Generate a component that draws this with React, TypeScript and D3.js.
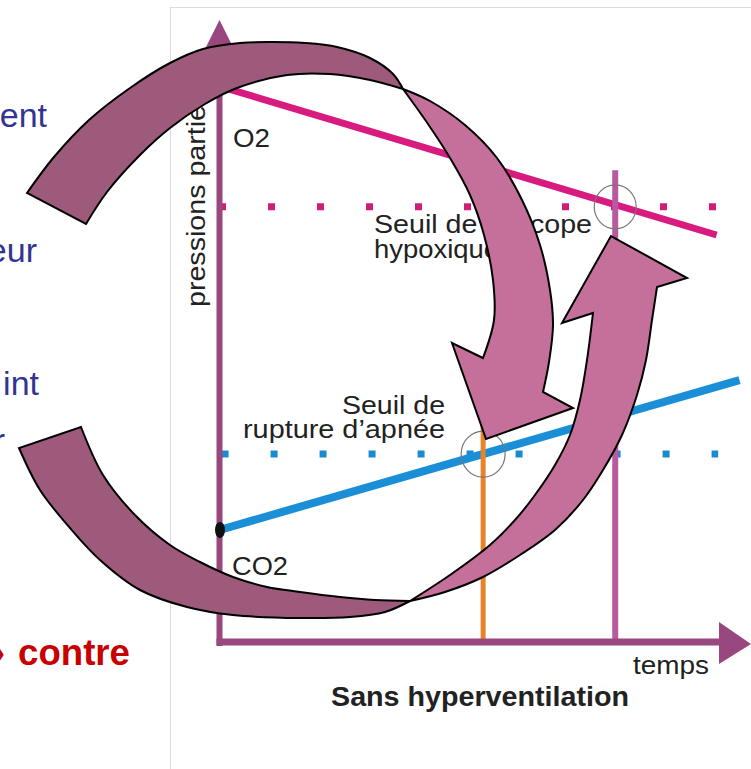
import React from "react";
import * as d3 from "d3";

// chart values (time and partial pressure, arbitrary units 0..100)
const o2Times = [1.2, 95.6];
const o2Values = [90.5, 66.5];
const co2Times = [0, 100];
const co2Values = [18.3, 42.8];
const syncopeThreshold = 71.1; // seuil de syncope hypoxique (O2)
const ruptureThreshold = 30.7; // seuil de rupture d'apnée (CO2)
const ruptureTime = 50.7;
const syncopeTime = 76.1;
const thresholdEnd = 95.9;

type Pt = [number, number];

// decorative circular arrows (pixel outlines)
const arrow1Outer: Pt[] = [[27, 193], [54, 157], [89, 120], [130, 88], [170, 63], [203, 49], [240, 43], [270, 42], [305, 43], [337, 47], [370, 58], [393, 74], [403, 89]];
const arrow1Inner: Pt[] = [[403, 89], [370, 80], [330, 74], [287, 75], [237, 88], [205, 104], [170, 128], [140, 155], [107, 192], [86, 224]];
const arrow1Right: Pt[] = [[403, 89], [430, 101], [465, 125], [497, 158], [522, 200], [540, 245], [550, 290], [553, 325], [549, 362], [543, 392]];
const arrow1Head: Pt[] = [[573, 408], [486, 439], [452, 343]];
const arrow1Left: Pt[] = [[483, 358], [494, 320], [493, 280], [484, 235], [470, 195], [450, 158], [428, 124], [403, 89]];

const arrow2Outer: Pt[] = [[19, 448], [40, 490], [70, 528], [100, 560], [140, 590], [187, 607], [233, 615], [300, 618], [350, 617], [385, 612], [410, 601]];
const arrow2Inner: Pt[] = [[410, 601], [375, 600], [340, 597], [300, 592], [267, 587], [233, 577], [200, 562], [170, 545], [135, 515], [103, 475], [81, 427]];
const arrow2Upper: Pt[] = [[410, 601], [450, 575], [490, 545], [515, 520], [535, 495], [555, 465], [570, 435], [580, 400], [587, 360], [593, 313]];
const arrow2Head: Pt[] = [[562, 323], [611, 236], [687, 278]];
const arrow2Lower: Pt[] = [[657, 287], [652, 320], [646, 360], [637, 395], [622, 435], [603, 470], [583, 500], [555, 530], [520, 555], [483, 577], [445, 592], [410, 601]];

const smooth = d3.line<Pt>().curve(d3.curveCatmullRom.alpha(0.5));

function bandPath(a: Pt[], b: Pt[], mids: Pt[] = []) {
  const s1 = smooth(a) ?? "";
  const straight = mids.map((p) => `L${p[0]},${p[1]}`).join("");
  const s2 = (smooth(b) ?? "").replace(/^M/, "L");
  return s1 + straight + s2 + "Z";
}

const FONT = "'Liberation Sans', Arial, Helvetica, sans-serif";

export default function App() {
  const W = 751;
  const H = 769;

  const x = d3.scaleLinear().domain([0, 100]).range([219.5, 739.5]);
  const y = d3.scaleLinear().domain([0, 100]).range([642, 30]);

  const line = d3.line<number>()
    .x((_, i) => x(o2Times[i]))
    .y((d) => y(d));
  const co2Line = d3.line<number>()
    .x((_, i) => x(co2Times[i]))
    .y((d) => y(d));

  const axisColor = "#99487f";
  const x0 = x(0);
  const yBase = y(0);
  const dark = "#9d5a7b";
  const light = "#c5709a";

  return (
    <svg width={W} height={H} style={{ position: "absolute", left: 0, top: 0, background: "#fff" }}>
      {/* panel frame */}
      <rect x={170.5} y={7.5} width={700} height={800} fill="#fff" stroke="#dcdcdc" strokeWidth={1} />

      {/* thresholds */}
      <line x1={x(0) - 0.5} x2={x(thresholdEnd)} y1={y(syncopeThreshold)} y2={y(syncopeThreshold)}
        stroke="#d01e78" strokeWidth={7} strokeDasharray="7 42" />
      <line x1={x(0.4)} x2={x(thresholdEnd)} y1={y(ruptureThreshold)} y2={y(ruptureThreshold)}
        stroke="#1b8bd0" strokeWidth={7} strokeDasharray="7 42" />

      {/* partial pressure lines */}
      <path d={line(o2Values) ?? ""} fill="none" stroke="#d81b7e" strokeWidth={7} />
      <path d={co2Line(co2Values) ?? ""} fill="none" stroke="#1a8fd8" strokeWidth={8} />

      {/* event markers */}
      <line x1={x(ruptureTime)} x2={x(ruptureTime)} y1={y(35.5)} y2={yBase} stroke="#e9832b" strokeWidth={5} />
      <line x1={x(syncopeTime)} x2={x(syncopeTime)} y1={y(77.1)} y2={yBase} stroke="#b85aa0" strokeWidth={6} />

      {/* axes */}
      <line x1={x0} x2={x0} y1={yBase + 4} y2={48} stroke={axisColor} strokeWidth={6} />
      <path d={`M${x0},20 L${x0 + 17},54 L${x0 - 17},54 Z`} fill={axisColor} />
      <line x1={x0 - 3} x2={722} y1={yBase} y2={yBase} stroke={axisColor} strokeWidth={7} />
      <path d={`M751,${yBase + 2} L719,${yBase - 20} L719,${yBase + 22} Z`} fill={axisColor} />

      {/* CO2 start point */}
      <ellipse cx={x(co2Times[0]) + 0.5} cy={y(co2Values[0])} rx={5} ry={8} fill="#111" />

      {/* intersection circles */}
      <ellipse cx={x(syncopeTime)} cy={y(syncopeThreshold)} rx={21} ry={22} fill="none" stroke="#777" strokeWidth={1.2} />
      <ellipse cx={x(ruptureTime)} cy={y(ruptureThreshold)} rx={22} ry={23} fill="none" stroke="#777" strokeWidth={1.2} />

      {/* chart labels */}
      <g fontFamily={FONT} fill="#222" fontSize={25}>
        <text x={233} y={147} textLength={37} lengthAdjust="spacingAndGlyphs" fontSize={26}>O2</text>
        <text x={374} y={233} textLength={218} lengthAdjust="spacingAndGlyphs">Seuil de syncope</text>
        <text x={374} y={258} textLength={125} lengthAdjust="spacingAndGlyphs">hypoxique</text>
        <text x={445} y={414} textAnchor="end" textLength={103} lengthAdjust="spacingAndGlyphs">Seuil de</text>
        <text x={445} y={438} textAnchor="end" textLength={202} lengthAdjust="spacingAndGlyphs">rupture d’apnée</text>
        <text x={232} y={575} textLength={56} lengthAdjust="spacingAndGlyphs" fontSize={26}>CO2</text>
        <text x={633} y={674} textLength={76} lengthAdjust="spacingAndGlyphs" fontSize={26}>temps</text>
        <text transform="translate(205,307) rotate(-90)" textLength={245} lengthAdjust="spacingAndGlyphs" fontSize={26}>pressions partielles</text>
        <text x={331} y={706} fontWeight="bold" fontSize={28} textLength={298} lengthAdjust="spacingAndGlyphs">Sans hyperventilation</text>
      </g>

      {/* slide text cut at left */}
      <g fontFamily={FONT} fill="#333391" fontSize={34}>
        <text x={47} y={127} textAnchor="end">ent</text>
        <text x={37} y={262} textAnchor="end">eur</text>
        <text x={39} y={395} textAnchor="end">int</text>
        <text x={5} y={452} textAnchor="end">r</text>
      </g>
      <g fontFamily={FONT} fill="#c80000" fontSize={36} fontWeight="bold">
        <text x={5} y={665} textAnchor="end">»</text>
        <text x={18} y={665} textLength={112} lengthAdjust="spacingAndGlyphs">contre</text>
      </g>

      {/* circular arrows */}
      <g stroke="#000" strokeWidth={2} strokeLinejoin="miter">
        <path d={bandPath(arrow1Outer, arrow1Inner)} fill={dark} />
        <path d={bandPath(arrow1Right, arrow1Left, arrow1Head)} fill={light} />
        <path d={bandPath(arrow2Outer, arrow2Inner)} fill={dark} />
        <path d={bandPath(arrow2Upper, arrow2Lower, arrow2Head)} fill={light} />
      </g>
    </svg>
  );
}
